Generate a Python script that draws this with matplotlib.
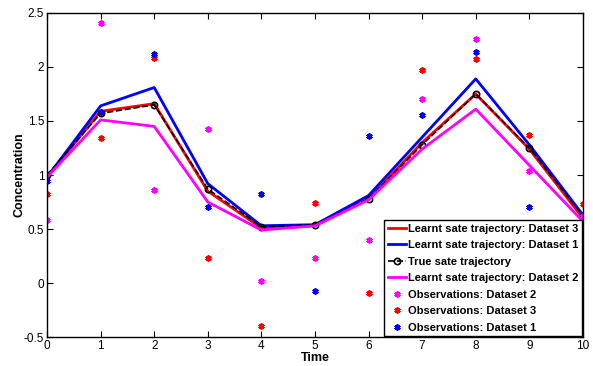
import numpy as np
import matplotlib
matplotlib.use("Agg")
import matplotlib.pyplot as plt

plt.rcParams["font.family"] = ["Liberation Sans", "DejaVu Sans"]

time = np.arange(0, 11)

# learnt / true trajectories
learnt_ds3 = [0.98, 1.59, 1.66, 0.85, 0.51, 0.53, 0.78, 1.30, 1.75, 1.24, 0.60]
learnt_ds1 = [0.98, 1.64, 1.81, 0.92, 0.53, 0.54, 0.81, 1.35, 1.89, 1.28, 0.63]
true_traj = [1.00, 1.57, 1.65, 0.87, 0.52, 0.54, 0.78, 1.28, 1.75, 1.25, 0.62]
learnt_ds2 = [0.98, 1.51, 1.45, 0.75, 0.49, 0.53, 0.77, 1.24, 1.61, 1.09, 0.57]

# noisy observations
obs_ds2 = [0.58, 2.41, 0.86, 1.43, 0.02, 0.23, 0.40, 1.70, 2.26, 1.04, 0.62]
obs_ds3 = [0.82, 1.34, 2.08, 0.23, -0.40, 0.74, -0.09, 1.97, 2.07, 1.37, 0.73]
obs_ds1 = [0.94, 1.58, 2.12, 0.70, 0.82, -0.07, 1.36, 1.56, 2.14, 0.70, 0.51]

fig = plt.figure(figsize=(5.93, 3.66), dpi=100)
ax = fig.add_axes([0.0793, 0.0792, 0.9037, 0.8853])

ax.plot(time, learnt_ds3, color="red", lw=2, label="Learnt sate trajectory: Dataset 3")
ax.plot(time, learnt_ds1, color="blue", lw=2, label="Learnt sate trajectory: Dataset 1")
ax.plot(time, true_traj, "k--o", lw=1.2, ms=4.5, mfc="none", mew=1.2,
        label="True sate trajectory")
ax.plot(time, learnt_ds2, color="magenta", lw=2, label="Learnt sate trajectory: Dataset 2")
star = (6, 2, 0)  # asterisk, like matlab '*'
ax.plot(time, obs_ds2, ls="none", marker=star, color="magenta", ms=4.5, mew=1.3,
        label="Observations: Dataset 2")
ax.plot(time, obs_ds3, ls="none", marker=star, color="red", ms=4.5, mew=1.3,
        label="Observations: Dataset 3")
ax.plot(time, obs_ds1, ls="none", marker=star, color="blue", ms=4.5, mew=1.3,
        label="Observations: Dataset 1")

ax.set_xlim(0, 10)
ax.set_ylim(-0.5, 2.5)
ax.set_xticks(range(0, 11))
ax.set_yticks([-0.5, 0, 0.5, 1, 1.5, 2, 2.5])
ax.set_yticklabels(["-0.5", "0", "0.5", "1", "1.5", "2", "2.5"])
ax.tick_params(direction="in", top=True, right=True, length=4, labelsize=8.5, pad=2)
for s in ax.spines.values():
    s.set_linewidth(1.0)

ax.set_xlabel("Time", fontsize=9, fontweight="bold", labelpad=0)
ax.set_ylabel("Concentration", fontsize=9, fontweight="bold")
ax.yaxis.set_label_coords(-0.04, 0.5)

leg = ax.legend(loc="lower right", prop={"weight": "bold", "size": 8},
                frameon=True, fancybox=False, edgecolor="black", framealpha=1,
                handlelength=1.6, handletextpad=0.2, borderpad=0.35, labelspacing=0.58,
                borderaxespad=0.05)
leg.get_frame().set_linewidth(1.0)

fig.savefig("out.png", dpi=100)
